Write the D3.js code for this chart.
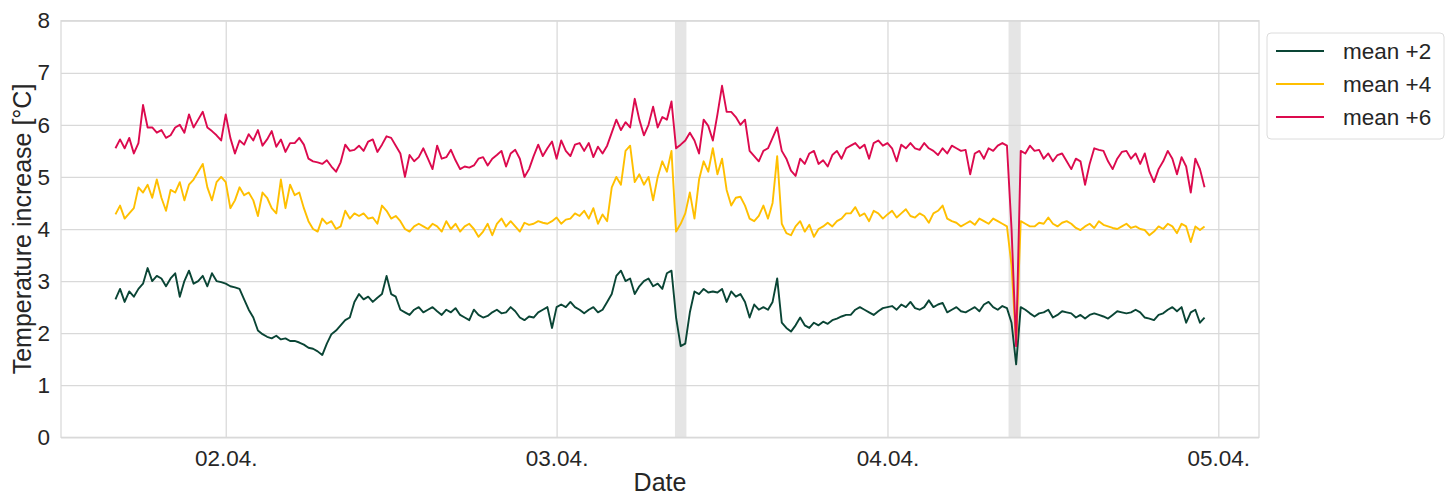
<!DOCTYPE html>
<html>
<head>
<meta charset="utf-8">
<script src="https://cdn.jsdelivr.net/npm/d3@7"></script>
<style>
  html, body { margin: 0; padding: 0; background: #fff; }
  svg { display: block; font-family: "Liberation Sans", Arial, sans-serif; }
</style>
</head>
<body>
<svg id="chart" width="1452" height="496"></svg>
<script>
// Temperature increase logged every 20 minutes, starting 01.04. 16:00
const startTime = "2021-04-01 16:00";
const stepMinutes = 20;

const seriesNames = ["mean +2", "mean +4", "mean +6"];
const seriesColors = ["#0a4535", "#ffbf00", "#dc0a4e"];

const meanPlus2 = [
  2.65,2.85,2.6,2.8,2.7,2.85,2.95,3.25,3.0,3.1,3.05,2.9,3.05,3.15,2.7,3.0,3.2,2.95,3.0,3.1,2.9,3.15,3.0,2.98,
  2.95,2.9,2.88,2.85,2.65,2.45,2.3,2.05,1.98,1.93,1.9,1.95,1.88,1.9,1.85,
  1.85,1.82,1.78,1.72,1.7,1.65,1.58,1.8,1.98,2.05,2.15,2.25,2.3,2.6,2.75,2.65,2.7,2.6,2.68,2.75,3.1,2.75,
  2.7,2.45,2.4,2.35,2.45,2.5,2.4,2.45,2.5,2.42,2.35,2.45,2.4,2.48,2.35,2.3,2.25,2.45,2.35,
  2.3,2.33,2.4,2.45,2.38,2.4,2.5,2.42,2.3,2.25,2.32,2.3,2.4,2.45,2.5,2.1,2.5,2.55,2.5,2.6,
  2.5,2.45,2.38,2.45,2.5,2.4,2.45,2.6,2.75,3.1,3.2,3.0,3.05,2.75,2.9,3.0,3.05,2.9,2.95,2.85,
  3.15,3.2,2.3,1.75,1.8,2.4,2.8,2.75,2.85,2.78,2.8,2.78,2.85,2.6,2.8,2.7,2.75,2.6,2.3,2.55,
  2.45,2.5,2.45,2.6,3.05,2.2,2.1,2.03,2.15,2.3,2.15,2.1,2.2,2.15,2.22,2.18,2.25,2.28,2.32,2.35,
  2.35,2.45,2.5,2.45,2.4,2.35,2.42,2.48,2.5,2.52,2.45,2.55,2.5,2.6,2.48,2.45,2.5,2.63,2.5,2.55,
  2.58,2.4,2.45,2.5,2.42,2.4,2.45,2.5,2.42,2.55,2.6,2.5,2.45,2.52,2.48,2.2,1.4,2.5,2.45,2.38,
  2.32,2.38,2.4,2.45,2.3,2.35,2.42,2.4,2.38,2.3,2.35,2.28,2.35,2.38,2.35,2.32,2.28,2.35,2.42,
  2.4,2.38,2.4,2.45,2.4,2.3,2.28,2.25,2.35,2.38,2.45,2.5,2.42,2.5,2.2,2.4,2.45,2.2,2.3
];

const meanPlus4 = [
  4.28,4.45,4.2,4.3,4.4,4.8,4.7,4.85,4.6,4.95,4.6,4.35,4.75,4.7,4.9,4.55,4.85,4.95,5.1,5.25,
  4.8,4.55,4.9,5.0,4.9,4.4,4.55,4.8,4.65,4.7,4.55,4.25,4.7,4.6,4.4,4.3,4.95,4.4,4.85,
  4.65,4.7,4.4,4.15,4.0,3.95,4.2,4.1,4.15,4.0,4.05,4.35,4.2,4.3,4.25,4.3,4.2,4.22,4.1,4.45,4.35,
  4.2,4.25,4.15,4.0,3.95,4.05,4.1,4.05,4.0,4.1,4.05,3.95,4.15,4.0,4.1,3.95,4.05,4.1,4.0,3.85,
  3.95,4.1,3.88,4.1,4.2,4.05,4.15,4.05,3.95,4.12,4.08,4.1,4.15,4.12,4.1,4.15,4.22,4.1,4.18,4.2,
  4.3,4.25,4.35,4.2,4.4,4.1,4.28,4.15,4.8,5.0,4.85,5.5,5.6,4.9,5.05,4.85,5.0,4.55,5.0,5.3,
  5.1,5.5,3.95,4.1,4.3,4.7,4.2,4.95,5.3,5.1,5.55,5.05,5.35,4.75,4.45,4.6,4.62,4.45,4.2,4.15,
  4.25,4.45,4.2,4.5,5.4,4.1,3.92,3.88,4.05,4.15,3.95,4.08,3.85,4.0,4.05,4.12,4.05,4.15,4.2,4.3,
  4.3,4.42,4.25,4.3,4.15,4.35,4.3,4.2,4.28,4.35,4.22,4.3,4.38,4.25,4.22,4.3,4.25,4.12,4.3,4.35,
  4.45,4.2,4.15,4.12,4.05,4.1,4.15,4.08,4.2,4.15,4.1,4.2,4.15,4.1,4.05,3.3,1.8,4.15,4.1,4.05,
  4.05,4.12,4.1,4.22,4.1,4.05,4.12,4.15,4.1,4.02,3.98,4.05,4.1,4.02,4.15,4.08,4.05,4.02,4.0,
  4.05,4.1,4.02,4.05,4.0,3.98,3.88,3.95,4.05,4.0,4.1,4.05,3.92,4.1,4.05,3.75,4.05,3.98,4.05
];

const meanPlus6 = [
  5.55,5.72,5.55,5.75,5.45,5.65,6.38,5.95,5.95,5.85,5.9,5.75,5.8,5.95,6.0,5.85,6.2,5.95,6.1,6.25,
  5.95,5.88,5.8,5.7,6.2,5.75,5.45,5.7,5.62,5.82,5.7,5.9,5.6,5.72,5.88,5.58,5.72,5.48,5.65,
  5.65,5.75,5.62,5.35,5.3,5.28,5.25,5.32,5.2,5.1,5.28,5.62,5.5,5.52,5.6,5.5,5.68,5.72,5.48,5.62,5.78,
  5.75,5.6,5.45,5.0,5.42,5.3,5.38,5.55,5.35,5.15,5.6,5.35,5.38,5.52,5.32,5.15,5.2,5.18,5.22,5.35,
  5.38,5.22,5.35,5.42,5.5,5.2,5.45,5.52,5.35,5.0,5.15,5.4,5.62,5.4,5.55,5.68,5.35,5.7,5.5,5.4,
  5.62,5.65,5.5,5.65,5.38,5.58,5.45,5.6,5.85,6.1,5.9,6.05,5.95,6.5,6.1,5.8,6.0,6.35,5.95,6.15,
  6.1,6.45,5.55,5.62,5.7,5.85,5.7,5.45,6.1,5.98,5.7,6.2,6.75,6.25,6.25,6.15,6.0,6.1,5.5,5.4,
  5.3,5.5,5.55,5.75,5.95,5.5,5.35,5.12,5.02,5.35,5.25,5.45,5.5,5.25,5.32,5.2,5.42,5.5,5.35,5.55,
  5.6,5.65,5.55,5.62,5.35,5.65,5.7,5.6,5.65,5.55,5.3,5.62,5.55,5.65,5.55,5.52,5.65,5.55,5.5,5.42,
  5.55,5.45,5.6,5.55,5.5,5.52,5.05,5.45,5.5,5.35,5.55,5.5,5.6,5.65,5.6,4.0,1.75,5.5,5.45,5.6,
  5.5,5.52,5.35,5.45,5.3,5.42,5.45,5.3,5.15,5.35,5.3,4.85,5.25,5.55,5.52,5.5,5.3,5.15,5.35,
  5.48,5.5,5.35,5.45,5.25,5.45,5.1,4.9,5.15,5.3,5.5,5.35,5.05,5.38,5.2,4.7,5.35,5.15,4.8
];

// Shaded intervals (start, end)
const shadedPeriods = [
  ["2021-04-03 08:35", "2021-04-03 09:25"],
  ["2021-04-04 08:47", "2021-04-04 09:40"]
];

const yTicks = [0, 1, 2, 3, 4, 5, 6, 7, 8];
const xTickDates = ["2021-04-02 00:00", "2021-04-03 00:00", "2021-04-04 00:00", "2021-04-05 00:00"];
const xLabel = "Date";
const yLabel = "Temperature increase [°C]";

const parse = d3.timeParse("%Y-%m-%d %H:%M");
const t0 = parse(startTime);
const allSeries = [meanPlus2, meanPlus4, meanPlus6].map((vals, i) => ({
  name: seriesNames[i],
  color: seriesColors[i],
  points: vals.map((v, k) => ({ t: d3.timeMinute.offset(t0, k * stepMinutes), v }))
}));

const margin = { left: 61, right: 193, top: 20.7, bottom: 58.7 };
const W = 1452, H = 496;
const svg = d3.select("#chart");

// x domain padded by 5% of the data span on each side
const tExtent = d3.extent(allSeries[0].points, d => d.t);
const span = tExtent[1] - tExtent[0];
const x = d3.scaleTime()
  .domain([new Date(+tExtent[0] - span * 0.05), new Date(+tExtent[1] + span * 0.05)])
  .range([margin.left, W - margin.right]);
const y = d3.scaleLinear().domain([0, 8]).range([H - margin.bottom, margin.top]);

const gridColor = "#d9d9d9";
const textColor = "#262626";

// shaded periods
svg.append("g").selectAll("rect")
  .data(shadedPeriods)
  .join("rect")
  .attr("x", d => x(parse(d[0])))
  .attr("width", d => x(parse(d[1])) - x(parse(d[0])))
  .attr("y", margin.top)
  .attr("height", H - margin.bottom - margin.top)
  .attr("fill", "#e5e5e5");

// grid
const xTicks = xTickDates.map(parse);
const yAxis = d3.axisLeft(y).tickValues(yTicks).tickSize(-(W - margin.left - margin.right)).tickPadding(11);
const xAxis = d3.axisBottom(x).tickValues(xTicks).tickFormat(d3.timeFormat("%d.%m.")).tickSize(-(H - margin.top - margin.bottom)).tickPadding(13);

const gy = svg.append("g").attr("transform", `translate(${margin.left},0)`).call(yAxis);
const gx = svg.append("g").attr("transform", `translate(0,${H - margin.bottom})`).call(xAxis);
[gx, gy].forEach(g => {
  g.select(".domain").remove();
  g.selectAll(".tick line").attr("stroke", gridColor).attr("stroke-width", 1.25);
  g.selectAll(".tick text").attr("fill", textColor).attr("font-size", 22.5)
    .attr("font-family", "'Liberation Sans', Arial, sans-serif");
});

// frame
svg.append("rect")
  .attr("x", margin.left).attr("y", margin.top)
  .attr("width", W - margin.left - margin.right)
  .attr("height", H - margin.top - margin.bottom)
  .attr("fill", "none").attr("stroke", gridColor).attr("stroke-width", 1.25);

// series lines
const line = d3.line().x(d => x(d.t)).y(d => y(d.v));
svg.append("g").selectAll("path")
  .data(allSeries)
  .join("path")
  .attr("d", d => line(d.points))
  .attr("fill", "none")
  .attr("stroke", d => d.color)
  .attr("stroke-width", 1.9)
  .attr("stroke-linejoin", "round");

// axis titles
svg.append("text")
  .attr("x", (margin.left + W - margin.right) / 2)
  .attr("y", 491)
  .attr("text-anchor", "middle")
  .attr("font-size", 25)
  .attr("fill", textColor)
  .text(xLabel);

svg.append("text")
  .attr("transform", `translate(31,${(margin.top + H - margin.bottom) / 2}) rotate(-90)`)
  .attr("text-anchor", "middle")
  .attr("font-size", 25)
  .attr("fill", textColor)
  .text(yLabel);

// legend
const lg = svg.append("g").attr("transform", "translate(1267,33)");
lg.append("rect")
  .attr("width", 177).attr("height", 106).attr("rx", 4)
  .attr("fill", "#fff").attr("stroke", "#dcdcdc").attr("stroke-width", 1);
allSeries.forEach((s, i) => {
  const cy = 18 + i * 33;
  lg.append("line").attr("x1", 9).attr("x2", 57).attr("y1", cy).attr("y2", cy)
    .attr("stroke", s.color).attr("stroke-width", 1.9);
  lg.append("text").attr("x", 76).attr("y", cy).attr("dy", "0.35em")
    .attr("font-size", 22.5).attr("fill", textColor).text(s.name);
});
</script>
</body>
</html>
